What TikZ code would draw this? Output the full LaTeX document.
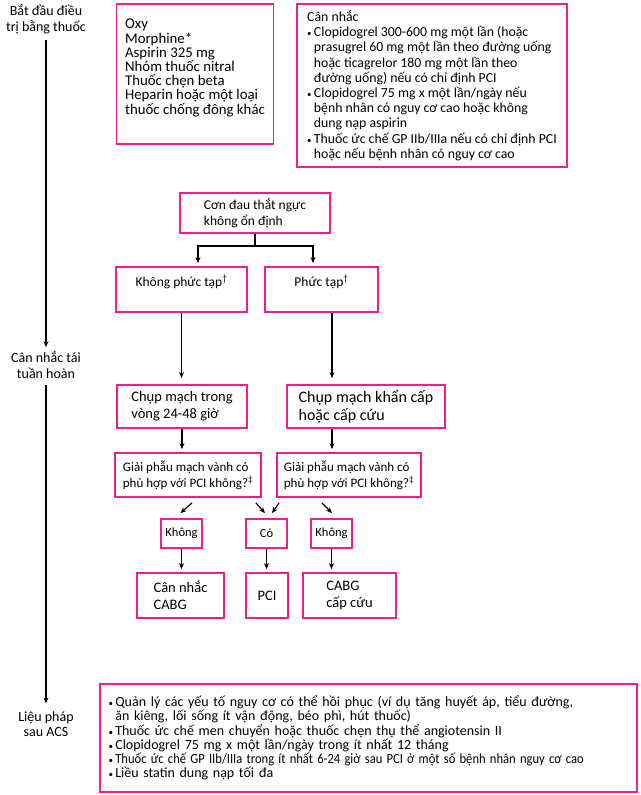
\documentclass[tikz,border=0pt]{standalone}
\usepackage{fontspec}
\usepackage{graphicx}
\setmainfont{Carlito}
\usetikzlibrary{arrows.meta,calc}
\definecolor{pinkb}{RGB}{234,30,140}
\newcommand{\smbul}{{\fontsize{9}{9}\selectfont •}\,}
\newcommand{\smind}{\hphantom{\smbul}}
\begin{document}
\begin{tikzpicture}[x=1pt,y=-1pt,
  pbox/.style={draw=pinkb, line width=1.8pt, inner sep=0pt, align=left},
  arr/.style={line width=1.2pt, -{Stealth[length=6pt,width=5pt]}, shorten >=3pt},
  plain/.style={line width=1.2pt},
  lab/.style={align=center, inner sep=0pt}]
\useasboundingbox (0,0) rectangle (640,795);
% left labels
\node[lab, font=\fontsize{14}{16.5}\selectfont] (l1) at (46,19) {Bắt đầu điều\\trị bằng thuốc};
\node[lab, font=\fontsize{14}{16}\selectfont] (l2) at (46,365) {Cân nhắc tái\\tuần hoàn};
\node[lab, font=\fontsize{14}{15}\selectfont] (l3) at (46,724) {Liệu pháp\\sau ACS};
\draw[arr, shorten <=6pt, shorten >=4pt] (l1.south) -- (l2.north);
\draw[arr, shorten <=6pt, shorten >=8pt] (l2.south) -- (l3.north);
% top boxes
\node[pbox, minimum width=157pt, minimum height=140pt] (b1) at (195,74) {};
\node[align=left, inner sep=0pt, font=\fontsize{14.8}{14.2}\selectfont] (b1t) at (195,68)
  {Oxy\\Morphine*\\Aspirin 325 mg\\Nhóm thuốc nitral\\Thuốc chẹn beta\\Heparin hoặc một loại\\thuốc chống đông khác};
\node[pbox, minimum width=270pt, minimum height=163pt, font=\fontsize{13.8}{15.2}\selectfont] (b2) at (432,85.5)
  {Cân nhắc\\
   \smbul Clopidogrel 300-600 mg một lần (hoặc\\
   \smind prasugrel 60 mg một lần theo đường uống\\
   \smind hoặc ticagrelor 180 mg một lần theo\\
   \smind đường uống) nếu có chỉ định PCI\\
   \smbul Clopidogrel 75 mg x một lần/ngày nếu\\
   \smind bệnh nhân có nguy cơ cao hoặc không\\
   \smind dung nạp aspirin\\
   \smbul Thuốc ức chế GP IIb/IIIa nếu có chỉ định PCI\\
   \smind hoặc nếu bệnh nhân có nguy cơ cao};
% flow
\node[pbox, minimum width=150pt, minimum height=40pt, font=\fontsize{13.5}{16}\selectfont] (con) at (255,213)
  {Cơn đau thắt ngực\\không ổn định};
\node[pbox, minimum width=131pt, minimum height=45pt, align=center, font=\fontsize{13.5}{17}\selectfont] (kpt) at (181.5,289.5)
  {Không phức tạp\textsuperscript{†}\\\mbox{}};
\node[pbox, minimum width=113pt, minimum height=45pt, align=center, font=\fontsize{13.5}{17}\selectfont] (ptp) at (321.5,289.5)
  {Phức tạp\textsuperscript{†}\\\mbox{}};
\node[pbox, minimum width=130pt, minimum height=43pt, font=\fontsize{14.5}{17}\selectfont] (chL) at (182,406.5)
  {Chụp mạch trong\\vòng 24-48 giờ};
\node[pbox, minimum width=158pt, minimum height=43pt, font=\fontsize{16}{18}\selectfont] (chR) at (366,406.5)
  {Chụp mạch khẩn cấp\\hoặc cấp cứu};
\node[pbox, minimum width=146pt, minimum height=44pt, font=\fontsize{13}{16}\selectfont] (gL) at (188,475)
  {Giải phẫu mạch vành có\\phù hợp với PCI không?\textsuperscript{‡}};
\node[pbox, minimum width=144pt, minimum height=44pt, font=\fontsize{13}{16}\selectfont] (gR) at (349,475)
  {Giải phẫu mạch vành có\\phù hợp với PCI không?\textsuperscript{‡}};
\node[pbox, minimum width=41pt, minimum height=29pt, align=center, font=\fontsize{12.5}{14}\selectfont] (kL) at (181.5,533.5) {Không};
\node[pbox, minimum width=41pt, minimum height=29pt, align=center, font=\fontsize{12.5}{14}\selectfont] (co) at (266.5,533.5) {Có};
\node[pbox, minimum width=41pt, minimum height=29pt, align=center, font=\fontsize{12.5}{14}\selectfont] (kR) at (331.5,533.5) {Không};
\node[pbox, minimum width=87pt, minimum height=45pt, font=\fontsize{14.5}{17}\selectfont] (cb1) at (180.5,595.5)
  {Cân nhắc\\CABG};
\node[pbox, minimum width=42pt, minimum height=45pt, align=center, font=\fontsize{14.5}{17}\selectfont] (pci) at (267,595.5) {PCI};
\node[pbox, minimum width=93pt, minimum height=45pt, font=\fontsize{14.5}{17}\selectfont] (cb2) at (349.5,595.5)
  {CABG\\cấp cứu};
% bottom box
\node[pbox, minimum width=537pt, minimum height=108pt, text width=520pt, font=\fontsize{14}{14.2}\selectfont] (bot) at (368.5,738)
  {\smbul Quản lý các yếu tố nguy cơ có thể hồi phục (ví dụ tăng huyết áp, tiểu đường,\\
   \smind ăn kiêng, lối sống ít vận động, béo phì, hút thuốc)\\
   \smbul Thuốc ức chế men chuyển hoặc thuốc chẹn thụ thể angiotensin II\\
   \smbul Clopidogrel 75 mg x một lần/ngày trong ít nhất 12 tháng\\
   \smbul \scalebox{0.9}[1]{Thuốc ức chế GP IIb/IIIa trong ít nhất 6-24 giờ sau PCI ở một số bệnh nhân nguy cơ cao}\\
   \smbul Liều statin dung nạp tối đa};
% connectors
\draw[plain] (con.south) -- ++(0,12) coordinate (split);
\draw[arr] (split) -| ([xshift=16.5pt]kpt.north);
\draw[arr] (split) -| ([xshift=-8.5pt]ptp.north);
\draw[arr, shorten >=6pt] (kpt.south) -- (kpt.south |- chL.north);
\draw[arr, shorten >=6pt] ([xshift=10.5pt]ptp.south) -- ([xshift=10.5pt]ptp.south |- chR.north);
\draw[arr] (chL.south) -- (chL.south |- gL.north);
\draw[arr] ([xshift=-34pt]chR.south) -- ([xshift=-34pt]chR.south |- gR.north);
\draw[arr, shorten >=0pt] ([shift={(4,5)}]gL.south) -- ([shift={(-1,-5)}]kL.north);
\draw[arr, shorten >=0pt] ([shift={(-6,5)}]gL.south east) -- ([shift={(-1.5,-5)}]co.north);
\draw[arr, shorten >=0pt] ([shift={(3,5)}]gR.south west) -- ([shift={(5.5,-5)}]co.north);
\draw[arr, shorten >=0pt] ([shift={(-27,5)}]gR.south) -- ([shift={(0.5,-5)}]kR.north);
\draw[arr] (kL.south) -- (kL.south |- cb1.north);
\draw[arr] (co.south) -- (co.south |- pci.north);
\draw[arr] (kR.south) -- (kR.south |- cb2.north);
\end{tikzpicture}
\end{document}
